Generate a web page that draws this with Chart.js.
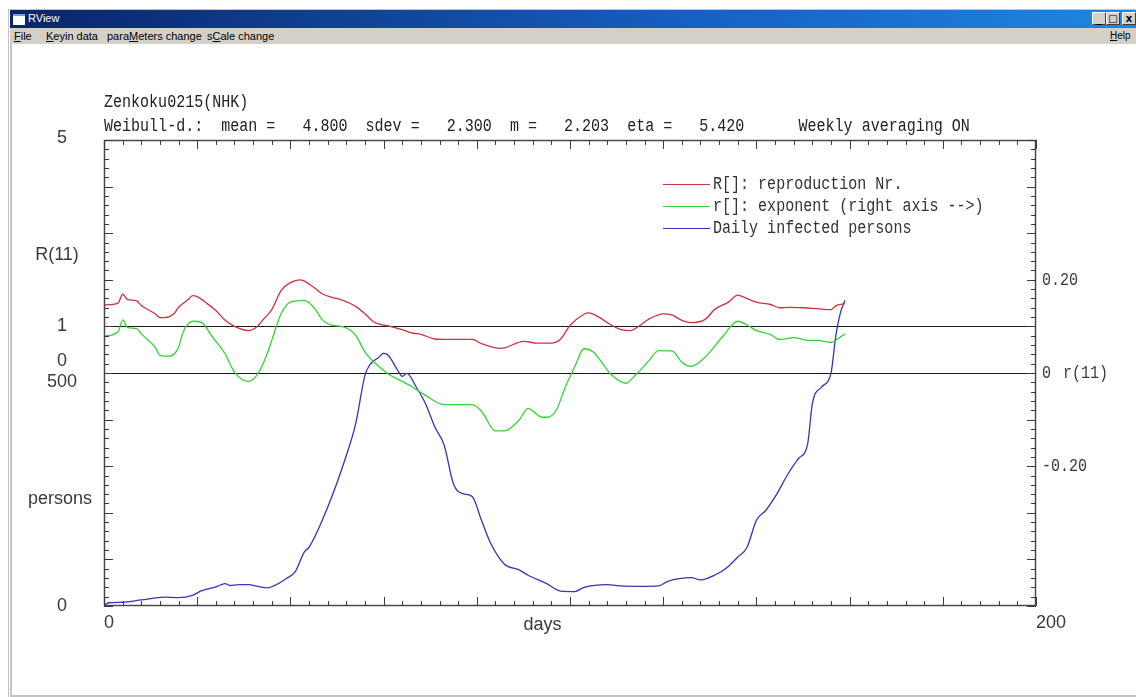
<!DOCTYPE html>
<html>
<head>
<meta charset="utf-8">
<title>RView</title>
<script src="https://cdn.jsdelivr.net/npm/chart.js@4.4.1/dist/chart.umd.min.js"></script>
<style>
  html, body { margin: 0; padding: 0; background: #fff; }
  body { width: 1136px; height: 697px; position: relative; overflow: hidden;
         font-family: "Liberation Sans", Arial, sans-serif; }
  #chart { position: absolute; left: 0; top: 0; }
  .edge { position: absolute; background: #c4c4c4; }
  #titlebar { position: absolute; left: 10px; top: 10px; right: 0; height: 18px;
              background: linear-gradient(to right, #0a246a 0%, #1560c0 60%, #1f86de 100%); }
  #titlebar .icon { position: absolute; left: 3px; top: 4px; width: 12px; height: 9px;
                    background: #fff; border-top: 2px solid #6f9fe0; }
  #titlebar .name { position: absolute; left: 18px; top: 2px; color: #fff; font-size: 11px; }
  .btn { position: absolute; top: 2px; width: 14px; height: 13px; background: #d4d0c8;
         border: 1px solid; border-color: #fff #404040 #404040 #fff; box-sizing: border-box;
         font: bold 10px "DejaVu Sans", sans-serif; line-height: 11px; text-align: center; color: #000; }
  #menubar { position: absolute; left: 10px; top: 28px; right: 0; height: 16px; background: #d4d0c8;
             font-size: 11px; color: #000; }
  #menubar span { position: absolute; top: 2px; white-space: pre; }
  #menubar u { text-decoration: underline; }
  .ttl { position: absolute; left: 104px; font: 18px "Liberation Mono", monospace; line-height: 18px;
         transform: scaleX(0.835); transform-origin: 0 0; white-space: pre; color: #222; }
</style>
</head>
<body>
<canvas id="chart" width="1136" height="697"></canvas>

<div class="edge" style="left:8px; top:9px; width:1px; height:688px;"></div>
<div class="edge" style="left:10px; top:44px; width:2px; height:653px;"></div>
<div class="edge" style="left:8px; top:9px; width:1128px; height:1px;"></div>
<div class="edge" style="left:10px; top:695px; width:1126px; height:2px;"></div>

<div id="titlebar">
  <div class="icon"></div>
  <div class="name">RView</div>
  <div class="btn" style="left:1082px;">_</div>
  <div class="btn" style="left:1096px;">&#9633;</div>
  <div class="btn" style="left:1112px;">x</div>
</div>
<div id="menubar">
  <span style="left:4px;"><u>F</u>ile</span>
  <span style="left:36px;"><u>K</u>eyin data</span>
  <span style="left:97px;">para<u>M</u>eters change</span>
  <span style="left:197px;">s<u>C</u>ale change</span>
  <span style="left:1100px; font-size:10px;"><u>H</u>elp</span>
</div>

<div class="ttl" style="top:93px;">Zenkoku0215(NHK)</div>
<div class="ttl" style="top:117px;">Weibull-d.:  mean =   4.800  sdev =   2.300  m =   2.203  eta =   5.420      Weekly averaging ON</div>

<script>
// R[]: reproduction number (left axis, upper part)
const rDays = [0,3,4,5,7,8,11,12,13,15,16,18,19,20,22,24,26,28,31,33,34,36,38,40,42,43,45,47,49,51,54,56,58,61,64,66,68,71,74,79,81,85,86,90,93,96,98,100,103,104,106,109,111,113,115,117,120,122,124,126,129,131,134,136,137,140,143,145,147,150,153,156,157,159];
const reproR = [1.46,1.50,1.69,1.58,1.55,1.45,1.27,1.19,1.19,1.27,1.41,1.57,1.66,1.64,1.50,1.34,1.13,1.00,0.91,1.01,1.13,1.36,1.77,1.94,2.00,1.97,1.84,1.69,1.62,1.57,1.43,1.27,1.09,1.01,0.93,0.86,0.83,0.73,0.72,0.72,0.63,0.53,0.54,0.68,0.64,0.64,0.73,1.02,1.26,1.29,1.21,1.02,0.93,0.91,1.02,1.16,1.27,1.24,1.13,1.08,1.15,1.36,1.52,1.67,1.64,1.52,1.47,1.40,1.41,1.40,1.38,1.36,1.44,1.49];

// r[]: exponent (right axis)
const gDays = [0,3,4,5,7,8,11,12,14,16,17,19,21,23,26,28,31,33,35,36,38,40,43,45,47,49,51,54,56,58,61,64,66,69,73,76,79,81,84,86,89,91,94,95,97,99,101,103,105,107,109,112,114,117,119,122,124,126,129,133,136,138,140,143,145,148,151,153,156,158,159];
const expR = [0.079,0.088,0.114,0.098,0.095,0.084,0.055,0.038,0.036,0.055,0.088,0.111,0.108,0.081,0.041,0.002,-0.018,-0.002,0.041,0.070,0.127,0.152,0.156,0.141,0.113,0.102,0.100,0.081,0.045,0.023,-0.002,-0.018,-0.029,-0.048,-0.068,-0.068,-0.068,-0.082,-0.124,-0.124,-0.102,-0.076,-0.095,-0.095,-0.081,-0.030,0.013,0.052,0.045,0.020,-0.005,-0.022,-0.005,0.027,0.048,0.047,0.023,0.014,0.034,0.081,0.111,0.103,0.091,0.083,0.072,0.076,0.070,0.070,0.066,0.077,0.084];

// daily infected persons (left axis, lower part)
const pDays = [0,1,4,8,13,16,19,21,24,26,27,29,31,33,35,37,39,41,43,44,48,52,54,56,57,59,60,61,63,64,65,67,69,71,73,75,77,79,81,83,86,89,91,95,98,101,103,108,111,115,119,121,126,128,131,134,136,138,140,142,144,147,149,151,152,154,156,157,158,159];
const persons = [1,7,8,13,19,18,23,33,41,48,44,46,46,42,39,46,58,73,116,126,212,323,391,495,517,534,542,538,506,493,499,470,434,384,345,262,241,235,184,134,89,78,66,48,32,31,40,46,43,42,43,53,61,56,66,85,105,126,184,205,234,287,316,348,434,470,499,577,628,656];

const seriesLabels = ['R[]: reproduction Nr.', 'r[]: exponent (right axis -->)', 'Daily infected persons'];
const refLines = [1, 0];                 // horizontal lines on R axis
const xLabels = [[0, '0'], [200, '200']];
const rLabels = [[5, '5'], [1, '1'], [0, '0']];
const personLabels = [[500, '500'], [0, '0']];
const expLabels = [[0.2, '0.20'], [0, '0'], [-0.2, '-0.20']];

const toPts = (xs, ys) => xs.map((d, i) => ({ x: d, y: ys[i] }));

function mono(ctx, text, x, y, size) {
  ctx.save();
  ctx.translate(x, y);
  ctx.scale(0.835, 1);
  ctx.font = size + 'px "Liberation Mono", monospace';
  ctx.textAlign = 'left';
  ctx.textBaseline = 'middle';
  ctx.fillText(text, 0, 0);
  ctx.restore();
}

function tickRun(ctx, n, posFn, majorEvery, draw) {
  for (let i = 0; i <= n; i++) draw(posFn(i), i % majorEvery === 0 ? 9 : 5);
}

const framePlugin = {
  id: 'framePlugin',
  beforeDatasetsDraw(chart) {
    const { ctx, chartArea: a, scales } = chart;
    ctx.save();
    ctx.strokeStyle = '#1a1a1a';
    ctx.lineWidth = 1.2;
    refLines.forEach(v => {
      const py = Math.round(scales.yR.getPixelForValue(v)) + 0.5;
      ctx.beginPath(); ctx.moveTo(a.left, py); ctx.lineTo(a.right, py); ctx.stroke();
    });
    ctx.restore();
  },
  afterDraw(chart) {
    const { ctx, chartArea: a, scales: { x, yR, yP, yr } } = chart;
    ctx.save();
    ctx.strokeStyle = '#4a4a4a';
    ctx.lineWidth = 1.5;
    ctx.strokeRect(a.left + 0.5, a.top + 0.5, a.right - a.left - 1, a.bottom - a.top - 1);

    ctx.lineWidth = 1;
    ctx.strokeStyle = '#3a3a3a';
    const line = (x1, y1, x2, y2) => { ctx.beginPath(); ctx.moveTo(x1, y1); ctx.lineTo(x2, y2); ctx.stroke(); };
    // x ticks, every 4 days, long every 20
    tickRun(ctx, 50, i => Math.round(x.getPixelForValue(i * 4)) + 0.5, 5, (px, len) => {
      line(px, a.top, px, a.top + len);
      line(px, a.bottom, px, a.bottom - len);
    });
    // left ticks: R 0..5 step 0.2, persons 0..500 step 20
    tickRun(ctx, 25, i => Math.round(yR.getPixelForValue(i * 0.2)) + 0.5, 5, (py, len) => line(a.left, py, a.left + len, py));
    tickRun(ctx, 25, i => Math.round(yP.getPixelForValue(i * 20)) + 0.5, 5, (py, len) => line(a.left, py, a.left + len, py));
    // right ticks: r -0.5..0.5 step 0.02
    tickRun(ctx, 50, i => Math.round(yr.getPixelForValue(-0.5 + i * 0.02)) + 0.5, 5, (py, len) => line(a.right, py, a.right - len, py));

    // axis labels
    ctx.fillStyle = '#3a3a3a';
    ctx.font = '18px "Liberation Sans", Arial, sans-serif';
    ctx.textBaseline = 'middle';
    ctx.textAlign = 'center';
    const lx = a.left - 42;
    rLabels.forEach(([v, t]) => {
      let py = yR.getPixelForValue(v);
      if (v === 5) py -= 2;
      if (v === 0) py -= 12;
      ctx.fillText(t, lx, py);
    });
    personLabels.forEach(([v, t]) => {
      let py = yP.getPixelForValue(v);
      if (v === 500) py += 9;
      ctx.fillText(t, lx, py);
    });
    ctx.fillText('R(11)', lx - 5, yR.getPixelForValue(2.53));
    ctx.fillText('persons', lx - 2, yP.getPixelForValue(230));

    ctx.textAlign = 'left';
    xLabels.forEach(([v, t]) => ctx.fillText(t, x.getPixelForValue(v), a.bottom + 17));
    ctx.fillText('days', x.getPixelForValue(90), a.bottom + 19);

    expLabels.forEach(([v, t]) => mono(ctx, t, a.right + 6, yr.getPixelForValue(v), 18));
    mono(ctx, 'r(11)', a.right + 27, yr.getPixelForValue(0), 18);

    // legend
    const ds = chart.data.datasets;
    ds.forEach((d, i) => {
      const ly = Math.round(a.top + 44 + i * 22) + 0.5;
      ctx.strokeStyle = d.borderColor;
      ctx.lineWidth = 1.2;
      line(a.left + 559, ly, a.left + 606, ly);
      ctx.fillStyle = '#333';
      mono(ctx, d.label, a.left + 609, ly, 18);
    });
    ctx.restore();
  }
};

new Chart(document.getElementById('chart'), {
  type: 'line',
  data: {
    datasets: [
      { label: seriesLabels[0], data: toPts(rDays, reproR), yAxisID: 'yR',
        borderColor: '#d0303f', borderWidth: 1.3, pointRadius: 0, cubicInterpolationMode: 'monotone' },
      { label: seriesLabels[1], data: toPts(gDays, expR), yAxisID: 'yr',
        borderColor: '#33d433', borderWidth: 1.3, pointRadius: 0, cubicInterpolationMode: 'monotone' },
      { label: seriesLabels[2], data: toPts(pDays, persons), yAxisID: 'yP',
        borderColor: '#3535b5', borderWidth: 1.3, pointRadius: 0, cubicInterpolationMode: 'monotone' }
    ]
  },
  options: {
    responsive: false,
    animation: false,
    events: [],
    layout: { padding: { left: 104, top: 140, right: 100, bottom: 91 } },
    plugins: { legend: { display: false }, tooltip: { enabled: false } },
    scales: {
      x: { type: 'linear', min: 0, max: 200, display: false },
      yR: { type: 'linear', min: -5, max: 5, display: false },
      yP: { type: 'linear', min: 0, max: 1000, display: false },
      yr: { type: 'linear', min: -0.5, max: 0.5, display: false }
    }
  },
  plugins: [framePlugin]
});
</script>
</body>
</html>
